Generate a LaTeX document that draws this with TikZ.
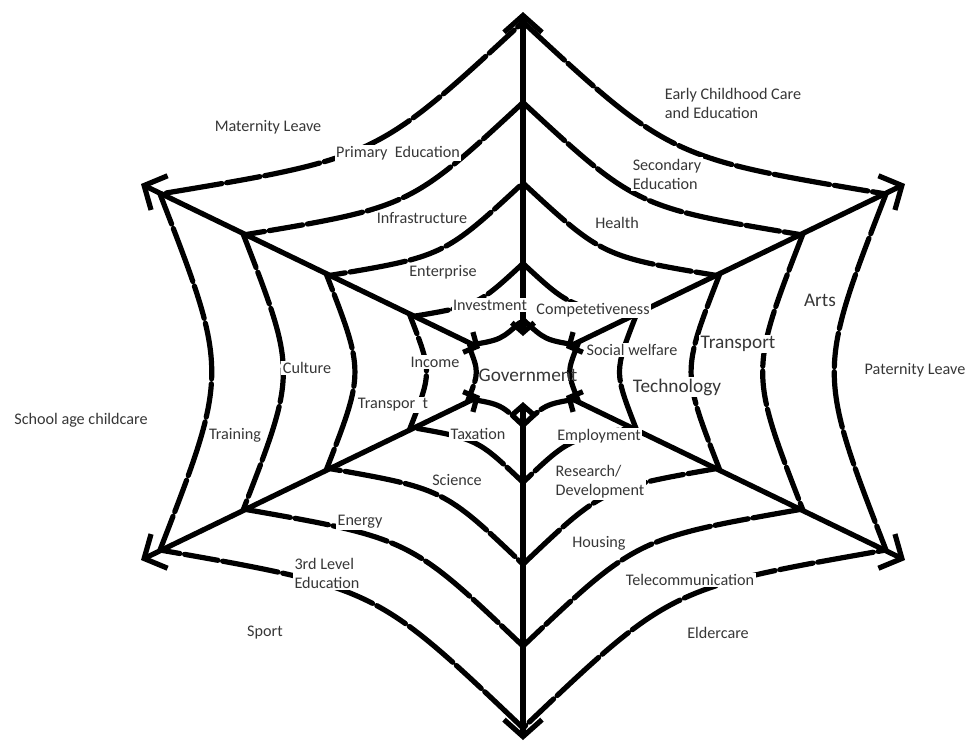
\documentclass[tikz,border=0pt]{standalone}
\usepackage{fontspec}
\setmainfont{Carlito}
\usepackage{tikz}
\usetikzlibrary{arrows.meta}
\definecolor{labelgray}{RGB}{55,55,55}
\newcommand{\webring}[1]{%
  \draw[web, shift={(523,372)}, scale=#1]
    (0,-350) .. controls (147,-214) .. (363,-178)
    .. controls (294,0) .. (363,178)
    .. controls (147,216) .. (0,356)
    .. controls (-147,216) .. (-363,178)
    .. controls (-294,0) .. (-363,-178)
    .. controls (-147,-214) .. (0,-350);}

\begin{document}
\begin{tikzpicture}[x=0.025cm, y=-0.025cm,
    web/.style={line width=3.7pt, line cap=round,
                dash pattern=on 40pt off 3.5pt on 24pt off 3.5pt},
    spoke/.style={line width=3.7pt,
                {Straight Barb[length=7pt,width=16pt]}-{Straight Barb[length=12pt,width=27pt]}},
    lbl/.style={fill=white, inner sep=1pt, text=labelgray, align=left,
                font=\fontsize{11.5}{13.5}\selectfont},
    big/.style={lbl, font=\fontsize{13.7}{15}\selectfont}]

  \useasboundingbox (0,0) rectangle (972,744);

  % spokes
  \coordinate (c) at (523,372);
  \coordinate (top) at (523,12);
  \coordinate (ur) at (905,184);
  \coordinate (lr) at (905,560);
  \coordinate (bot) at (523,740);
  \coordinate (ll) at (141,560);
  \coordinate (ul) at (141,184);
  \coordinate (topin) at (523,336);
  \coordinate (urin) at (566,348);
  \coordinate (lrin) at (566,396);
  \coordinate (botin) at (523,402);
  \coordinate (llin) at (480,396);
  \coordinate (ulin) at (480,348);

  \draw[spoke] (topin) -- (top);
  \draw[spoke] (urin) -- (ur);
  \draw[spoke] (lrin) -- (lr);
  \draw[spoke] (botin) -- (bot);
  \draw[spoke] (llin) -- (ll);
  \draw[spoke] (ulin) -- (ul);

  % rings
  \webring{1.0}
  \webring{0.77}
  \webring{0.54}
  \webring{0.31}
  \webring{0.15}

  \node[lbl] (maternity) at (268,127) {Maternity Leave};
  \node[lbl] (primary) at (398,153) {Primary\ \ Education};
  \node[lbl] (infra) at (422,218) {Infrastructure};
  \node[lbl] (enterprise) at (443,272) {Enterprise};
  \node[lbl] (investment) at (490,305) {Investment};
  \node[lbl] (compet) at (593,310) {Competetiveness};
  \node[lbl] (social) at (632,350) {Social welfare};
  \node[big, fill=none] (gov) at (528,375) {Government};
  \node[lbl] (income) at (435,362) {Income};
  \node[lbl] (transpor) at (393,405) {Transpor\ \ t};
  \node[lbl] (taxation) at (478,434) {Taxation};
  \node[lbl] (science) at (457,480) {Science};
  \node[lbl] (employ) at (599,436) {Employment};
  \node[lbl] (research) at (600,482) {Research/\\Development};
  \node[big] (tech) at (677,387) {Technology};
  \node[big] (transport) at (738,344) {Transport};
  \node[big] (arts) at (820,300) {Arts};
  \node[lbl] (paternity) at (915,370) {Paternity Leave};
  \node[lbl] (culture) at (307,368) {Culture};
  \node[lbl] (training) at (235,435) {Training};
  \node[lbl] (school) at (81,420) {School age childcare};
  \node[lbl] (energy) at (360,522) {Energy};
  \node[lbl] (third) at (327,573) {3rd Level\\Education};
  \node[lbl] (sport) at (265,633) {Sport};
  \node[lbl] (housing) at (599,543) {Housing};
  \node[lbl] (telecom) at (690,580) {Telecommunication};
  \node[lbl] (eldercare) at (718,633) {Eldercare};
  \node[lbl] (early) at (733,103) {Early Childhood Care\\and Education};
  \node[lbl] (secondary) at (667,174) {Secondary\\Education};
  \node[lbl] (health) at (617,223) {Health};
\end{tikzpicture}
\end{document}
